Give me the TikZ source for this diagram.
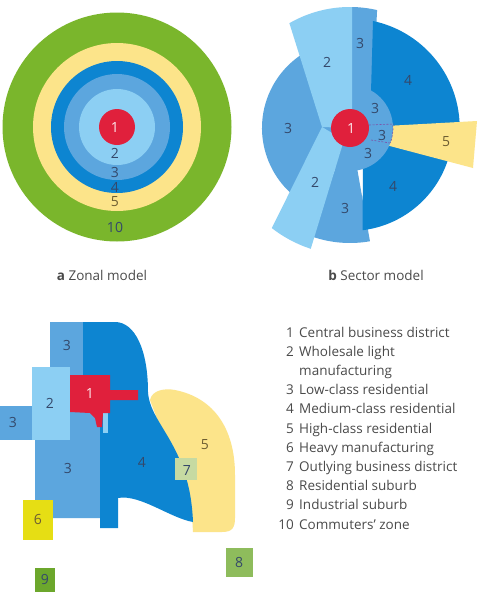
\documentclass[tikz,border=0pt]{standalone}
\usepackage{fontspec}
\setmainfont{Open Sans}
\usepackage{xcolor}
\usepackage{tikz}
\usetikzlibrary{calc}

\definecolor{zred}{HTML}{E0203C}
\definecolor{zlight}{HTML}{8CCFF3}
\definecolor{zmid}{HTML}{5CA6DE}
\definecolor{zdark}{HTML}{0D85D1}
\definecolor{zyellow}{HTML}{FCE48A}
\definecolor{zgreen}{HTML}{7AB62C}
\definecolor{hyellow}{HTML}{E6DE14}
\definecolor{obd}{HTML}{C6DAA2}
\definecolor{rsub}{HTML}{8EBC5C}
\definecolor{isub}{HTML}{6CA72C}
\definecolor{labc}{HTML}{34486A}
\definecolor{laby}{HTML}{6E5E32}
\definecolor{legc}{HTML}{4A4A4A}
\definecolor{dashc}{HTML}{7E4FA6}

\begin{document}
\begin{tikzpicture}[
    x=1pt, y=-1pt,
    lbl/.style={font=\fontsize{14}{14}\selectfont, text=labc, inner sep=0pt},
    lblw/.style={lbl, text=white!90!zred},
    lbly/.style={lbl, text=laby},
    captxt/.style={font=\fontsize{13.5}{16}\selectfont, text=legc, inner sep=0pt},
    legnum/.style={captxt, anchor=base east},
    legtxt/.style={captxt, anchor=base west},
]
\fill[white] (0,0) rectangle (484,592);
\useasboundingbox (0,0) rectangle (484,592);

% a  Zonal model
\coordinate (Z) at (117,127);
\foreach \r/\c in {114.5/zgreen, 84/zyellow, 66/zdark, 53/zmid, 38/zlight, 18/zred}
    \fill[\c] (Z) circle[radius=\r];

\node[lblw] (z1) at (115,127) {1};
\node[lbl] (z2) at (115,153) {2};
\node[lbl] (z3) at (115,172) {3};
\node[lbl] (z4) at (115,187) {4};
\node[lbly] (z5) at (115,202) {5};
\node[lbl] (z10) at (115,227) {10};
\node[captxt] (zcap) at (102,275) {\textbf{a} Zonal model};

% b  Sector model
\coordinate (C) at (350,128);
\fill[zmid] (C) -- ($(C)+(115:88)$) arc[start angle=115, end angle=245, radius=88] -- cycle;
\fill[zmid] (352,128) -- (352,7) arc[start angle=-89, end angle=-77, radius=121] -- (371,128) -- cycle;
\fill[zmid] (C) -- ($(C)+(80:115)$) arc[start angle=80, end angle=110, radius=115] -- cycle;
\fill[zdark] (370,128) -- (373,21) arc[start angle=-78, end angle=-2, radius=109.5] -- cycle;
\fill[zdark] (C) -- (363,150) -- ($(C)+(83:103)$) arc[start angle=83, end angle=12, radius=103] -- cycle;
\fill[zyellow] (386,126) -- (477,121) -- (473,168) -- (386,145) -- cycle;
\fill[zmid] (C) circle[radius=43];
\fill[zlight] (352,128) -- (352,7) arc[start angle=-89, end angle=-120, radius=121] -- (322,127) -- cycle;
\fill[zlight] (322,127) -- ($(C)+(128:127)$) arc[start angle=128, end angle=108, radius=127] -- (344,140) -- cycle;
\fill[zred] (C) circle[radius=19];

\draw[dashc, dash pattern=on 2pt off 1.5pt, line width=0.6pt] (369,125) -- (394,124);
\draw[dashc, dash pattern=on 2pt off 1.5pt, line width=0.6pt] (371,140) -- (390,143);
\draw[dashc, dash pattern=on 2pt off 1.5pt, line width=0.6pt] ($(C)+(-4:43)$) arc[start angle=-4, end angle=20, radius=43];

\node[lblw] (s1) at (351,128) {1};
\node[lbl] (s2a) at (327,62) {2};
\node[lbl] (s2b) at (315,182) {2};
\node[lbl] (s3a) at (360,43) {3};
\node[lbl] (s3b) at (288,128) {3};
\node[lbl] (s3c) at (375,108) {3};
\node[lbl] (s3d) at (382,135) {3};
\node[lbl] (s3e) at (368,153) {3};
\node[lbl] (s3f) at (345,208) {3};
\node[lbl] (s4a) at (408,80) {4};
\node[lbl] (s4b) at (393,186) {4};
\node[lbly] (s5) at (446,142) {5};
\node[captxt] (scap) at (376,275) {\textbf{b} Sector model};

% Multiple nuclei model
\fill[zyellow] (150,400) .. controls (152,390) and (165,388) .. (175,390)
    .. controls (215,398) and (235,430) .. (235,475) -- (235,518)
    .. controls (235,528) and (232,532) .. (222,532) -- (193,532)
    -- (192,515) -- (165,440) -- cycle;
\fill[zmid] (50,322) -- (83,322) -- (83,412) -- (100,412) -- (100,518)
    -- (35,518) -- (35,367) -- (50,367) -- cycle;
\fill[zmid] (0,406) rectangle (32,440);
\fill[zdark] (83,322) -- (115,322) .. controls (135,322) and (148,350) .. (148,392)
    .. controls (150,425) and (190,445) .. (193,522)
    .. controls (170,518) and (140,494) .. (118,498)
    -- (118,528) -- (100,528) -- (100,412) -- (83,412) -- cycle;
\fill[zlight] (32,367) rectangle (70,440);
\fill[zlight] (103,413) rectangle (108,433);
\fill[zred] (70,375) -- (110,375) -- (110,390) -- (138,390) -- (138,400) -- (110,400)
    -- (110,413) -- (103,413) -- (102,427) -- (97,427) -- (95,418) -- (90,413)
    -- (70,412) -- cycle;
\fill[obd] (175,458) rectangle (197,480);
\fill[hyellow] (23,500) rectangle (53,540);
\fill[rsub] (226,548) rectangle (253,577);
\fill[isub] (35,568) rectangle (55,592);

\node[lblw] (m1) at (90,393) {1};
\node[lbl] (m2) at (50,403) {2};
\node[lbl] (m3a) at (67,345) {3};
\node[lbl] (m3b) at (13,422) {3};
\node[lbl] (m3c) at (68,468) {3};
\node[lbl] (m4) at (142,462) {4};
\node[lbly] (m5) at (205,445) {5};
\node[lbly] (m6) at (38,519) {6};
\node[lbl] (m7) at (187,470) {7};
\node[lbl] (m8) at (239,562) {8};
\node[lbl] (m9) at (45,579) {9};

% Key
\foreach \yy/\n in {337/1, 356.2/2, 394.6/3, 413.8/4, 433/5, 452.2/6, 471.4/7, 490.6/8, 509.8/9, 529/10}
    \node[legnum] (num\n) at (294,\yy) {\n};
\foreach \yy/\t [count=\i] in {337/Central business district, 356.2/Wholesale light,
    375.4/manufacturing, 394.6/Low-class residential, 413.8/Medium-class residential,
    433/High-class residential, 452.2/Heavy manufacturing, 471.4/Outlying business district,
    490.6/Residential suburb, 509.8/Industrial suburb, 529/Commuters’ zone}
    \node[legtxt] (leg\i) at (299,\yy) {\t};

\end{tikzpicture}
\end{document}
